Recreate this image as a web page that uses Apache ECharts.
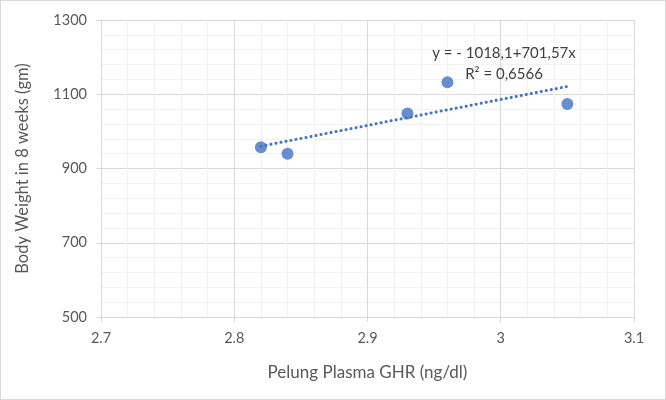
<!DOCTYPE html>
<html>
<head>
<meta charset="utf-8">
<script src="https://cdn.jsdelivr.net/npm/echarts@6/dist/echarts.min.js"></script>
<style>
  html, body { margin: 0; padding: 0; background: #fff; }
  #chart { width: 664px; height: 398px; border: 1px solid #d9d9d9; }
</style>
</head>
<body>
<div id="chart"></div>
<script>
// plasma GHR (ng/dl) vs body weight at 8 weeks (gm)
var ghrValues = [2.82, 2.84, 2.93, 2.96, 3.05];
var weightValues = [957, 940, 1048, 1132, 1074];
// linear trendline endpoints
var trendX = [2.82, 3.05];
var trendY = [960, 1121];
var equationText = 'y = - 1018,1+701,57x';
var r2Text = 'R² = 0,6566';

var points = ghrValues.map(function (x, i) { return [x, weightValues[i]]; });
var trend = trendX.map(function (x, i) { return [x, trendY[i]]; });

var fontFamily = 'Lato, "Open Sans", sans-serif';

var option = {
    animation: false,
    backgroundColor: '#fff',
    textStyle: { fontFamily: fontFamily },
    grid: { left: 100, right: 31, top: 19, bottom: 82 },
    xAxis: {
        type: 'value',
        min: 2.7,
        max: 3.1,
        interval: 0.1,
        name: 'Pelung Plasma GHR (ng/dl)',
        nameLocation: 'middle',
        nameGap: 47,
        nameTextStyle: { color: '#595959', fontSize: 17, fontFamily: fontFamily },
        axisLine: { show: true, lineStyle: { color: '#d9d9d9', width: 1 } },
        axisTick: { show: true, length: 5, lineStyle: { color: '#d9d9d9' } },
        axisLabel: {
            color: '#595959', fontSize: 14.5, margin: 14,
            formatter: function (v) { return String(+v.toFixed(1)); }
        },
        splitLine: { show: true, lineStyle: { color: '#d9d9d9', width: 1 } },
        minorTick: { show: false, splitNumber: 5 },
        minorSplitLine: { show: true, lineStyle: { color: '#f2f2f2', width: 1 } }
    },
    yAxis: {
        type: 'value',
        min: 500,
        max: 1300,
        interval: 200,
        name: 'Body Weight in 8 weeks (gm)',
        nameLocation: 'middle',
        nameGap: 70,
        nameTextStyle: { color: '#595959', fontSize: 16.5, fontFamily: fontFamily },
        axisLine: { show: true, lineStyle: { color: '#d9d9d9', width: 1 } },
        axisTick: { show: true, length: 5, lineStyle: { color: '#d9d9d9' } },
        axisLabel: {
            color: '#595959', fontSize: 14.5, margin: 14,
            formatter: function (v) { return String(v); }
        },
        splitLine: { show: true, lineStyle: { color: '#d9d9d9', width: 1 } },
        minorTick: { show: false, splitNumber: 5 },
        minorSplitLine: { show: true, lineStyle: { color: '#f2f2f2', width: 1 } }
    },
    series: [
        {
            name: 'trend',
            type: 'line',
            data: trend,
            symbol: 'none',
            silent: true,
            lineStyle: { color: '#4472c4', width: 3, type: [0.1, 5], cap: 'round' },
            z: 2
        },
        {
            name: 'GHR',
            type: 'scatter',
            data: points,
            symbol: 'circle',
            symbolSize: 12,
            itemStyle: { color: '#4472c4' },
            z: 3
        }
    ],
    graphic: [
        {
            type: 'text',
            x: 503,
            y: 52,
            z: 10,
            style: {
                text: equationText,
                fill: '#404040',
                font: '15px ' + fontFamily,
                align: 'center',
                verticalAlign: 'middle'
            }
        },
        {
            type: 'text',
            x: 503,
            y: 73,
            z: 10,
            style: {
                text: r2Text,
                fill: '#404040',
                font: '15px ' + fontFamily,
                align: 'center',
                verticalAlign: 'middle'
            }
        }
    ]
};

var myChart = echarts.init(document.getElementById('chart'));
myChart.setOption(option);
</script>
</body>
</html>
